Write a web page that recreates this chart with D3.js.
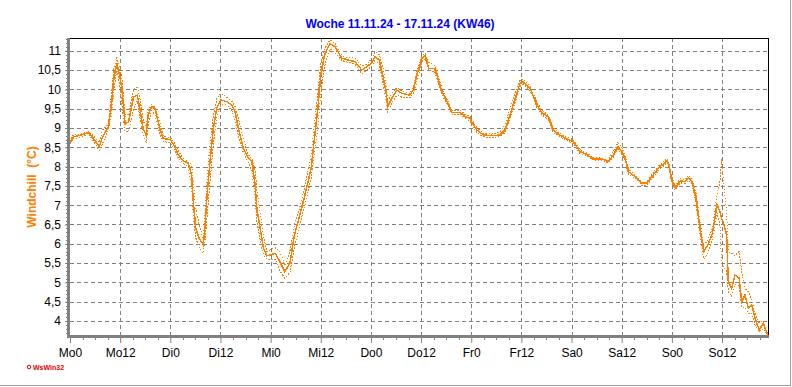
<!DOCTYPE html>
<html>
<head>
<meta charset="utf-8">
<script src="https://cdn.jsdelivr.net/npm/d3@7"></script>
<style>
  body { margin: 0; background: #fff; }
  svg { display: block; }
  text { font-family: Arial, "Liberation Sans", sans-serif; }
</style>
</head>
<body>
<script>
// hours since Monday 00:00
var hours = [0, 0.8, 2.8, 4.4, 5.6, 7.0, 7.8, 9.2, 10.0, 10.5, 11.2, 12.0, 12.4, 13.2, 14.0, 15.2, 16.1, 16.7, 17.5, 18.2,
  18.7, 19.5, 20.3, 21.5, 22.3, 24.0, 25.1, 25.9, 27.1, 28.3, 29.1, 29.5, 30.1, 30.9, 31.9, 32.3, 32.8, 33.5, 34.3, 35.1,
  36.1, 37.5, 38.7, 39.5, 40.3, 41.5, 42.7, 43.5, 44.3, 44.7, 45.5, 46.3, 47.1, 49.1, 50.2, 51.4, 52.6, 53.7, 55.0, 56.2,
  57.7, 58.4, 59.3, 60.0, 60.9, 62.2, 63.4, 65.0, 66.6, 68.2, 69.8, 71.0, 72.2, 73.0, 74.0, 75.0, 75.6, 76.0, 77.0, 78.2,
  79.4, 81.3, 82.2, 83.0, 84.2, 85.0, 85.8, 87.2, 87.9, 89.0, 90.2, 91.4, 93.4, 94.6, 95.7, 96.1, 97.3, 98.9, 100.9, 102.9,
  104.1, 105.3, 106.5, 107.7, 108.5, 110.1, 111.7, 112.9, 114.4, 115.6, 116.8, 118.8, 120.4, 122.0, 123.2, 125.2, 127.2, 128.8, 130.0, 131.1,
  132.0, 132.8, 133.6, 135.2, 136.8, 138.0, 139.2, 140.8, 142.8, 143.2, 143.9, 144.8, 146.0, 147.2, 148.0, 148.8, 149.8, 150.5, 151.6, 152.6,
  153.7, 154.8, 155.5, 155.9, 156.3, 157.1, 157.5, 158.3, 159.1, 160.1, 160.7, 161.5, 162.3, 163.1, 163.9, 164.9, 165.9, 166.9];

var windchill = [8.60, 8.77, 8.82, 8.89, 8.73, 8.52, 8.77, 9.03, 9.68, 10.29, 10.68, 10.29, 10.03, 9.10, 9.16, 9.81, 9.85, 9.51, 8.99, 8.82,
  9.34, 9.55, 9.51, 8.99, 8.73, 8.70, 8.52, 8.30, 8.15, 8.09, 7.78, 7.09, 6.40, 6.14, 5.97, 6.44, 7.26, 8.13, 8.99, 9.51,
  9.73, 9.68, 9.60, 9.42, 8.99, 8.47, 8.22, 8.13, 7.52, 6.92, 6.40, 5.88, 5.69, 5.75, 5.54, 5.28, 5.49, 6.23, 6.75, 7.26,
  7.96, 8.65, 9.51, 10.37, 10.89, 11.19, 11.11, 10.81, 10.76, 10.72, 10.50, 10.59, 10.68, 10.85, 10.76, 10.29, 9.94, 9.55, 9.77, 9.98,
  9.90, 9.85, 10.00, 10.37, 10.81, 10.87, 10.54, 10.54, 10.33, 9.94, 9.68, 9.40, 9.40, 9.29, 9.25, 9.16, 8.95, 8.82, 8.80, 8.82,
  8.95, 9.34, 9.77, 10.16, 10.20, 10.03, 9.60, 9.40, 9.29, 8.95, 8.84, 8.72, 8.65, 8.39, 8.34, 8.20, 8.20, 8.13, 8.30, 8.52,
  8.39, 8.22, 7.87, 7.74, 7.57, 7.57, 7.74, 7.96, 8.15, 8.09, 7.70, 7.44, 7.63, 7.61, 7.71, 7.61, 7.18, 6.57, 5.80, 5.97,
  6.27, 7.01, 6.83, 6.65, 6.57, 6.23, 5.02, 4.85, 5.19, 5.11, 4.50, 4.67, 4.33, 4.41, 4.07, 3.77, 3.94, 3.64];

var windchillMax = [8.65, 8.82, 8.85, 8.90, 8.80, 8.62, 8.95, 9.10, 9.95, 10.55, 10.82, 10.50, 10.30, 9.30, 9.35, 10.00, 10.05, 9.80, 9.20, 9.00,
  9.45, 9.60, 9.55, 9.15, 8.80, 8.75, 8.60, 8.40, 8.22, 8.12, 8.05, 7.60, 6.90, 6.50, 6.10, 6.80, 7.70, 8.60, 9.30, 9.75,
  9.90, 9.80, 9.70, 9.55, 9.25, 8.70, 8.30, 8.20, 7.90, 7.40, 6.80, 6.20, 5.80, 5.90, 5.80, 5.45, 5.80, 6.50, 6.95, 7.50,
  8.30, 9.00, 9.90, 10.65, 11.05, 11.28, 11.20, 10.88, 10.82, 10.82, 10.60, 10.65, 10.80, 10.98, 10.90, 10.50, 10.10, 9.70, 9.90, 10.05,
  9.95, 9.90, 10.05, 10.50, 10.88, 10.92, 10.70, 10.62, 10.42, 10.02, 9.74, 9.46, 9.46, 9.34, 9.30, 9.22, 9.02, 8.86, 8.84, 8.90,
  9.10, 9.50, 9.90, 10.24, 10.26, 10.08, 9.68, 9.46, 9.34, 9.02, 8.88, 8.76, 8.70, 8.44, 8.38, 8.23, 8.23, 8.16, 8.40, 8.62,
  8.50, 8.28, 7.94, 7.78, 7.60, 7.60, 7.80, 8.02, 8.20, 8.14, 7.76, 7.50, 7.68, 7.66, 7.78, 7.66, 7.30, 6.75, 5.95, 6.10,
  6.40, 7.30, 7.60, 8.20, 7.70, 6.80, 5.80, 5.75, 5.70, 5.80, 5.30, 4.85, 4.75, 4.55, 4.20, 3.95, 4.00, 3.70];

var windchillMin = [8.58, 8.72, 8.76, 8.86, 8.66, 8.42, 8.60, 8.95, 9.40, 10.00, 10.50, 10.05, 9.60, 8.90, 8.90, 9.50, 9.70, 9.30, 8.80, 8.60,
  9.10, 9.45, 9.35, 8.85, 8.65, 8.62, 8.42, 8.22, 8.08, 8.00, 7.50, 6.70, 6.15, 5.90, 5.75, 6.10, 6.70, 7.60, 8.60, 9.25,
  9.60, 9.60, 9.45, 9.20, 8.80, 8.35, 8.10, 7.90, 7.20, 6.60, 6.10, 5.70, 5.60, 5.60, 5.30, 5.11, 5.25, 5.90, 6.50, 7.00,
  7.70, 8.30, 9.00, 9.90, 10.60, 11.05, 10.95, 10.75, 10.70, 10.65, 10.40, 10.50, 10.60, 10.75, 10.65, 10.10, 9.70, 9.42, 9.65, 9.85,
  9.80, 9.78, 9.90, 10.20, 10.72, 10.80, 10.48, 10.46, 10.25, 9.86, 9.62, 9.36, 9.36, 9.24, 9.18, 9.08, 8.88, 8.77, 8.75, 8.78,
  8.88, 9.22, 9.66, 10.08, 10.14, 9.96, 9.54, 9.34, 9.22, 8.88, 8.80, 8.68, 8.60, 8.34, 8.30, 8.17, 8.17, 8.10, 8.25, 8.45,
  8.32, 8.16, 7.80, 7.70, 7.52, 7.52, 7.68, 7.90, 8.10, 8.04, 7.62, 7.38, 7.58, 7.56, 7.64, 7.54, 7.05, 6.40, 5.60, 5.75,
  6.10, 6.80, 6.50, 5.45, 5.40, 5.30, 4.75, 4.65, 4.95, 4.90, 4.35, 4.35, 4.20, 4.20, 3.90, 3.72, 3.80, 3.62];

var dayLabels = ["Mo0", "Mo12", "Di0", "Di12", "Mi0", "Mi12", "Do0", "Do12", "Fr0", "Fr12", "Sa0", "Sa12", "So0", "So12"];
var yTicks = [4, 4.5, 5, 5.5, 6, 6.5, 7, 7.5, 8, 8.5, 9, 9.5, 10, 10.5, 11];

var width = 792, height = 387;
var pLeft = 70, pRight = 768, pTop = 38, pBottom = 336;
var orange = "#ff8000";

var svg = d3.select("body").append("svg")
    .attr("width", width)
    .attr("height", height);

var x = d3.scaleLinear().domain([0, 167]).range([pLeft, pRight]);
var y = d3.scaleLinear().domain([3.611, 11.332]).range([pBottom, pTop]);

//__outer frame (right and bottom edge only)__//
svg.append("line").attr("x1", 0).attr("x2", 791).attr("y1", 385.5).attr("y2", 385.5)
    .attr("stroke", "#a0a0a0").attr("stroke-width", 1);
svg.append("line").attr("x1", 790.5).attr("x2", 790.5).attr("y1", 0).attr("y2", 386)
    .attr("stroke", "#a0a0a0").attr("stroke-width", 1);

//__grid__//
var grid = svg.append("g").attr("shape-rendering", "crispEdges");
grid.selectAll(".hgrid")
    .data(yTicks)
    .enter().append("line")
    .attr("x1", pLeft).attr("x2", pRight)
    .attr("y1", d => Math.round(y(d)) + 0.5).attr("y2", d => Math.round(y(d)) + 0.5)
    .attr("stroke", "#808080").attr("stroke-dasharray", "4,3");
grid.selectAll(".vgrid")
    .data(dayLabels.slice(1))
    .enter().append("line")
    .attr("x1", (d, i) => Math.round(x((i + 1) * 12)) + 0.5)
    .attr("x2", (d, i) => Math.round(x((i + 1) * 12)) + 0.5)
    .attr("y1", pTop).attr("y2", pBottom)
    .attr("stroke", "#808080").attr("stroke-dasharray", "4,3");

//__top and right frame__//
svg.append("path")
    .attr("d", "M" + pLeft + "," + (pTop + 0.5) + "H" + (pRight + 0.5) + "V" + pBottom)
    .attr("fill", "none").attr("stroke", "#000").attr("stroke-width", 1)
    .attr("shape-rendering", "crispEdges");

//__axes__//
var yAxis = d3.axisLeft(y).tickValues(yTicks).tickSize(4).tickPadding(4)
    .tickFormat(d => String(d).replace(".", ","));
var gy = svg.append("g").attr("transform", "translate(" + (pLeft - 1) + ",0)").call(yAxis);
gy.select(".domain").remove();
gy.selectAll(".tick line").attr("stroke", "#808080");
gy.selectAll("text").attr("font-size", 12).attr("fill", "#000").attr("font-family", "Arial, 'Liberation Sans', sans-serif");
// minor ticks every 0.1
svg.append("g").selectAll("line")
    .data(d3.range(37, 114).map(d => d / 10))
    .enter().append("line")
    .attr("x1", pLeft - 4).attr("x2", pLeft - 1)
    .attr("y1", d => Math.round(y(d)) + 0.5).attr("y2", d => Math.round(y(d)) + 0.5)
    .attr("stroke", "#808080").attr("shape-rendering", "crispEdges");

var xAxis = d3.axisBottom(x).tickValues(d3.range(0, 167, 12)).tickSize(6).tickPadding(5)
    .tickFormat((d, i) => dayLabels[i]);
var gx = svg.append("g").attr("transform", "translate(0," + (pBottom + 1) + ")").call(xAxis);
gx.select(".domain").remove();
gx.selectAll(".tick line").attr("stroke", "#808080");
gx.selectAll("text").attr("font-size", 12).attr("fill", "#000").attr("font-family", "Arial, 'Liberation Sans', sans-serif");
svg.append("g").selectAll("line")
    .data(d3.range(3, 167, 3).filter(d => d % 12 !== 0))
    .enter().append("line")
    .attr("x1", d => Math.round(x(d)) + 0.5).attr("x2", d => Math.round(x(d)) + 0.5)
    .attr("y1", pBottom).attr("y2", pBottom + 4)
    .attr("stroke", "#808080").attr("shape-rendering", "crispEdges");

// thick gray axis lines
svg.append("line").attr("x1", pLeft - 1.5).attr("x2", pLeft - 1.5).attr("y1", pTop).attr("y2", pBottom + 2)
    .attr("stroke", "#808080").attr("stroke-width", 3);
svg.append("line").attr("x1", pLeft - 3).attr("x2", pRight + 1).attr("y1", pBottom + 0.5).attr("y2", pBottom + 0.5)
    .attr("stroke", "#808080").attr("stroke-width", 3);

//__data lines__// (aliased like the original program output)
function lineFor(values) {
    return d3.line()
        .x((d, i) => x(hours[i]))
        .y(d => y(d))(values);
}
var plot = svg.append("g").attr("shape-rendering", "crispEdges");
plot.append("path").attr("d", lineFor(windchillMax))
    .attr("fill", "none").attr("stroke", orange).attr("stroke-width", 1).attr("stroke-dasharray", "1.5,1.5");
plot.append("path").attr("d", lineFor(windchillMin))
    .attr("fill", "none").attr("stroke", orange).attr("stroke-width", 1).attr("stroke-dasharray", "1.5,1.5");
plot.append("path").attr("d", lineFor(windchill))
    .attr("fill", "none").attr("stroke", orange).attr("stroke-width", 1.5);

//__titles__//
svg.append("text")
    .attr("x", 400).attr("y", 28)
    .attr("text-anchor", "middle")
    .attr("font-size", 12).attr("font-weight", "bold").attr("fill", "#0000ff")
    .text("Woche 11.11.24 - 17.11.24 (KW46)");

svg.append("text")
    .attr("transform", "translate(36,187) rotate(-90)")
    .attr("text-anchor", "middle")
    .attr("font-size", 12).attr("font-weight", "bold").attr("fill", orange)
    .attr("xml:space", "preserve")
    .text("Windchill  (°C)");

// WsWin32 logo
svg.append("circle").attr("cx", 29).attr("cy", 367).attr("r", 1.8)
    .attr("fill", "none").attr("stroke", "#e00000").attr("stroke-width", 1);
svg.append("text")
    .attr("x", 33).attr("y", 370)
    .attr("font-size", 7).attr("font-weight", "bold").attr("fill", "#e00000")
    .text("WsWin32");
</script>
</body>
</html>
